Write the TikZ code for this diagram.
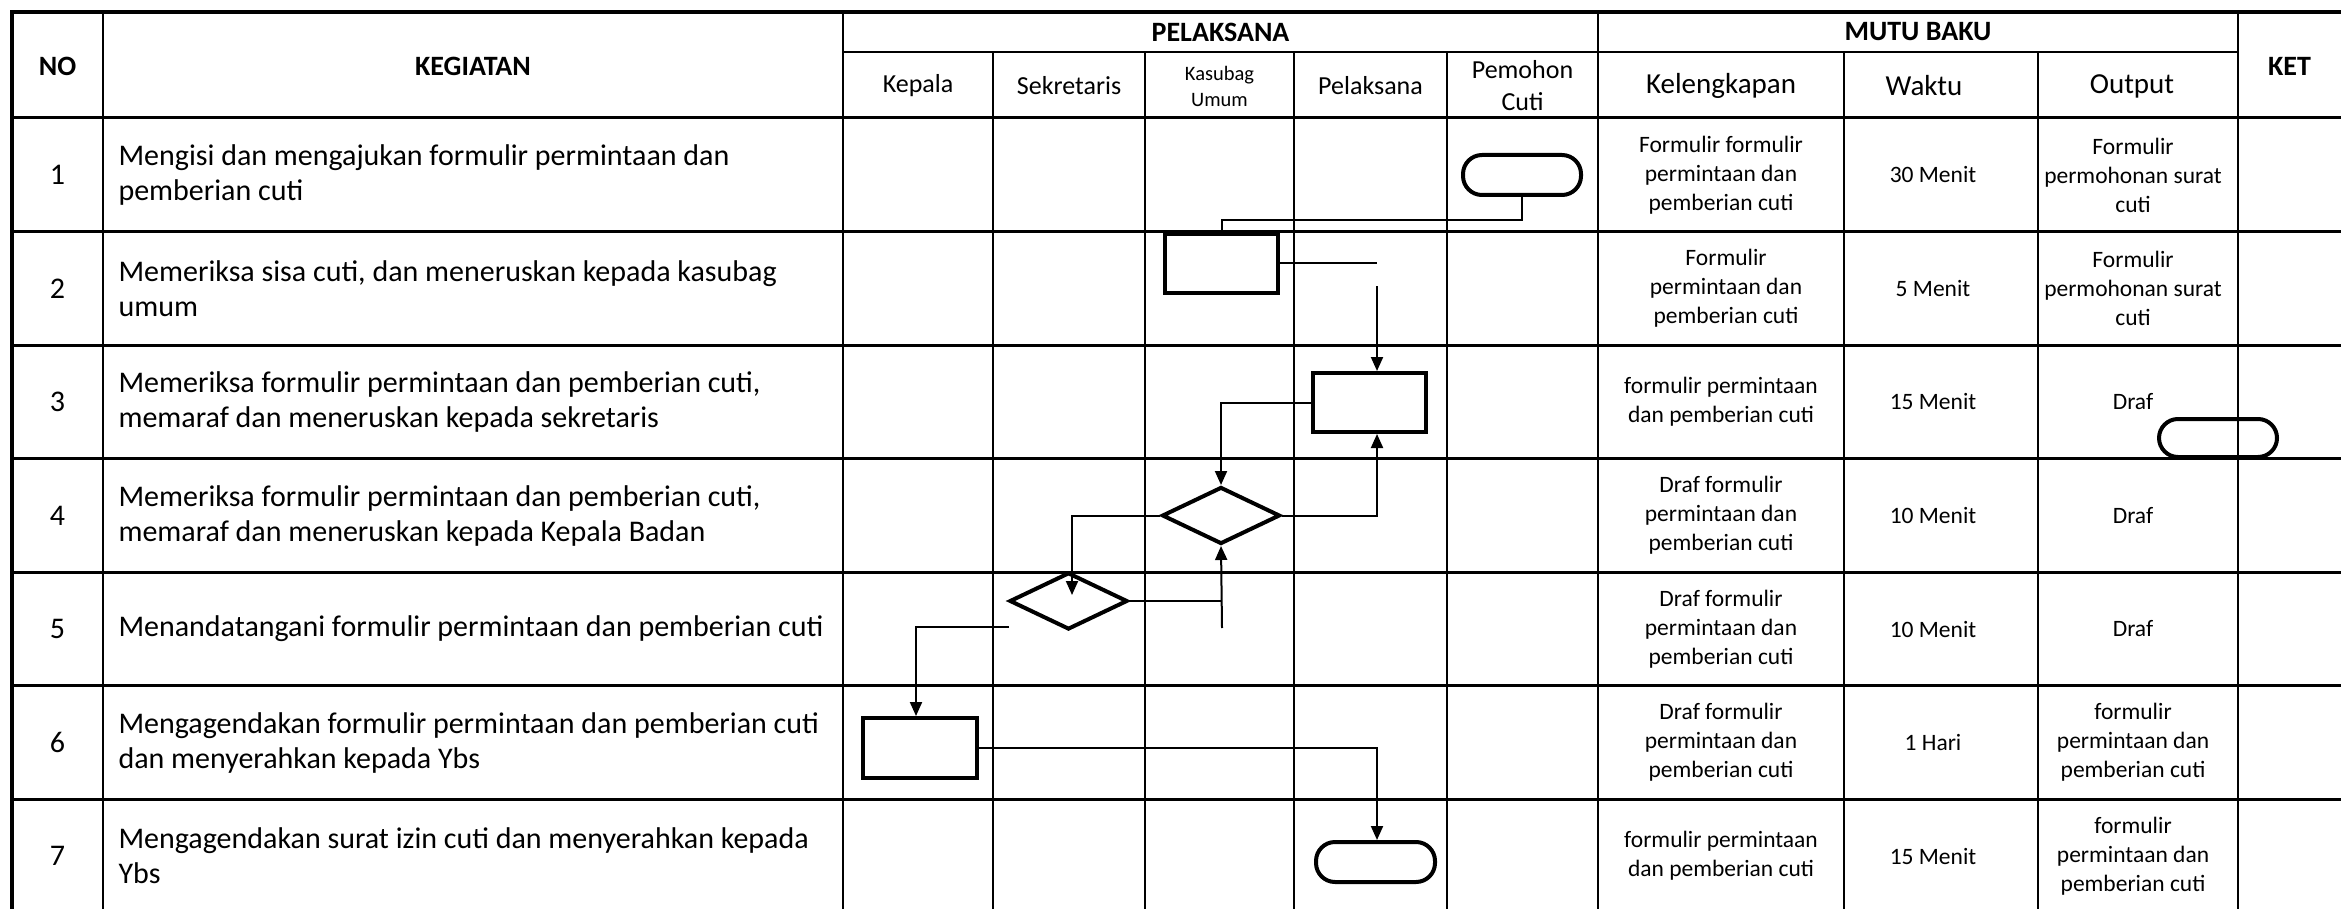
\documentclass[tikz,border=0pt]{standalone}
\usepackage{fontspec}
\setmainfont{Carlito}
\usetikzlibrary{positioning,arrows.meta,shapes.geometric}

\begin{document}
\begin{tikzpicture}[x=1pt,y=-1pt,
  kepala/.style={font=\fontsize{28}{34}\selectfont\bfseries},
  sub/.style={font=\fontsize{26}{32}\selectfont,align=center},
  subbesar/.style={font=\fontsize{29}{35}\selectfont},
  isi/.style={font=\fontsize{30}{35}\selectfont,align=left,anchor=west},
  nomor/.style={font=\fontsize{30}{35}\selectfont},
  mutu/.style={font=\fontsize{23.5}{29}\selectfont,align=center},
  bentuk/.style={draw,line width=4pt,inner sep=0pt},
  proses/.style={bentuk,minimum width=113pt,minimum height=59pt},
  mulai/.style={bentuk,rounded corners=19pt,minimum width=118pt,minimum height=40pt},
  putusan/.style={bentuk,diamond,minimum width=118pt,minimum height=57pt},
  hub/.style={line width=2pt},
  panah/.style={line width=2pt,-{Triangle[length=14pt,width=12pt]}}]
  \useasboundingbox (0,0) rectangle (2341,909);
  % garis tabel
  \foreach \x in {103,843,1598,2238} \draw[line width=2pt] (\x,12) -- (\x,909);
  \foreach \x in {993,1145,1294,1447,1844,2038} \draw[line width=2pt] (\x,52) -- (\x,909);
  \draw[line width=2pt] (843,52) -- (2238,52);
  \foreach \y in {118,231.5,345,458.5,572,685.5,799} \draw[line width=3pt] (12,\y) -- (2341,\y);
  \draw[line width=4.5pt] (12,909) -- (12,12) -- (2341,12);
  % judul kolom
  \node[kepala] (hno) at (57.5,66) {NO}; \node[kepala] (hkeg) at (473,66) {KEGIATAN};
  \node[kepala] (hpel) at (1220.5,32) {PELAKSANA}; \node[kepala] (hmutu) at (1918,32) {MUTU BAKU};
  \node[kepala] (hket) at (2289.5,66) {KET};
  \node[sub] (hkep) at (918,86) {Kepala}; \node[sub] (hsek) at (1069,86) {Sekretaris};
  \node[sub,font=\fontsize{20.5}{26}\selectfont] (hkas) at (1219.5,86) {Kasubag\\Umum};
  \node[sub] (hpl) at (1370.5,86) {Pelaksana}; \node[sub] (hpem) at (1522.5,86) {Pemohon\\Cuti};
  \node[subbesar] (hkel) at (1721,86) {Kelengkapan}; \node[subbesar] (hwak) at (1924,86) {Waktu};
  \node[subbesar] (hout) at (2132,86) {Output};
  % isi baris
  \node[nomor] (n1) at (57.5,175) {1}; \node[isi] (k1) at (115,175) {Mengisi dan mengajukan formulir permintaan dan\\pemberian cuti};
  \node[mutu] (l1) at (1721,175) {Formulir formulir\\permintaan dan\\pemberian cuti}; \node[mutu] (w1) at (1933,175) {30 Menit}; \node[mutu] (o1) at (2133,175) {Formulir\\permohonan surat\\cuti};
  \node[nomor] (n2) at (57.5,288.5) {2}; \node[isi] (k2) at (115,288.5) {Memeriksa sisa cuti, dan meneruskan kepada kasubag\\umum};
  \node[mutu] (l2) at (1726,288.5) {Formulir\\permintaan dan\\pemberian cuti}; \node[mutu] (w2) at (1933,288.5) {5 Menit}; \node[mutu] (o2) at (2133,288.5) {Formulir\\permohonan surat\\cuti};
  \node[nomor] (n3) at (57.5,402) {3}; \node[isi] (k3) at (115,402) {Memeriksa formulir permintaan dan pemberian cuti,\\memaraf dan meneruskan kepada sekretaris};
  \node[mutu] (l3) at (1721,402) {formulir permintaan\\dan pemberian cuti}; \node[mutu] (w3) at (1933,402) {15 Menit}; \node[mutu] (o3) at (2133,402) {Draf};
  \node[nomor] (n4) at (57.5,515.5) {4}; \node[isi] (k4) at (115,515.5) {Memeriksa formulir permintaan dan pemberian cuti,\\memaraf dan meneruskan kepada Kepala Badan};
  \node[mutu] (l4) at (1721,515.5) {Draf formulir\\permintaan dan\\pemberian cuti}; \node[mutu] (w4) at (1933,515.5) {10 Menit}; \node[mutu] (o4) at (2133,515.5) {Draf};
  \node[nomor] (n5) at (57.5,629) {5}; \node[isi] (k5) at (115,629) {Menandatangani formulir permintaan dan pemberian cuti};
  \node[mutu] (l5) at (1721,629) {Draf formulir\\permintaan dan\\pemberian cuti}; \node[mutu] (w5) at (1933,629) {10 Menit}; \node[mutu] (o5) at (2133,629) {Draf};
  \node[nomor] (n6) at (57.5,742.5) {6}; \node[isi] (k6) at (115,742.5) {Mengagendakan formulir permintaan dan pemberian cuti\\dan menyerahkan kepada Ybs};
  \node[mutu] (l6) at (1721,742.5) {Draf formulir\\permintaan dan\\pemberian cuti}; \node[mutu] (w6) at (1933,742.5) {1 Hari}; \node[mutu] (o6) at (2133,742.5) {formulir\\permintaan dan\\pemberian cuti};
  \node[nomor] (n7) at (57.5,856) {7}; \node[isi] (k7) at (115,856) {Mengagendakan surat izin cuti dan menyerahkan kepada\\Ybs};
  \node[mutu] (l7) at (1721,856) {formulir permintaan\\dan pemberian cuti}; \node[mutu] (w7) at (1933,856) {15 Menit}; \node[mutu] (o7) at (2133,856) {formulir\\permintaan dan\\pemberian cuti};
  % simbol alur
  \node[mulai] (s1) at (1522,175) {}; \node[proses] (s2) at (1221.5,263.5) {}; \node[proses] (s3) at (1369.5,402.5) {};
  \node[putusan] (s4) at (1221,515.5) {}; \node[putusan] (s5) at (1068.5,601) {};
  \node[proses,minimum width=114pt,minimum height=60pt] (s6) at (920,748) {}; \node[mulai,minimum width=119pt] (s7) at (1375.5,862) {};
  \node[mulai,minimum height=38pt] (sx) at (2218,438) {};
  % titik bantu
  \coordinate (a2) at (1377,263.5); \coordinate (b2) at (1377,286); \coordinate (a4) at (1072,595);
  \coordinate (a5) at (1222,601); \coordinate (b5) at (1222,628); \coordinate (c5) at (1009,627);
  % garis alur
  \draw[hub] (s1.south) -- ++(0,23) -| (s2.north);
  \draw[hub] (s2.east) -- (a2); \draw[panah] (b2) -- (b2 |- s3.north);
  \draw[panah] (s3.west) -| (s4.north);
  \draw[panah] (s4.east) -| (b2 |- s3.south);
  \draw[panah] (s4.west) -| (a4);
  \draw[hub] (s5.east) -- (a5); \draw[panah] (b5) -- (s4.south);
  \draw[panah] (c5) -| ([xshift=-4pt]s6.north);
  \draw[panah] (s6.east) -| (b2 |- s7.north);
\end{tikzpicture}
\end{document}
